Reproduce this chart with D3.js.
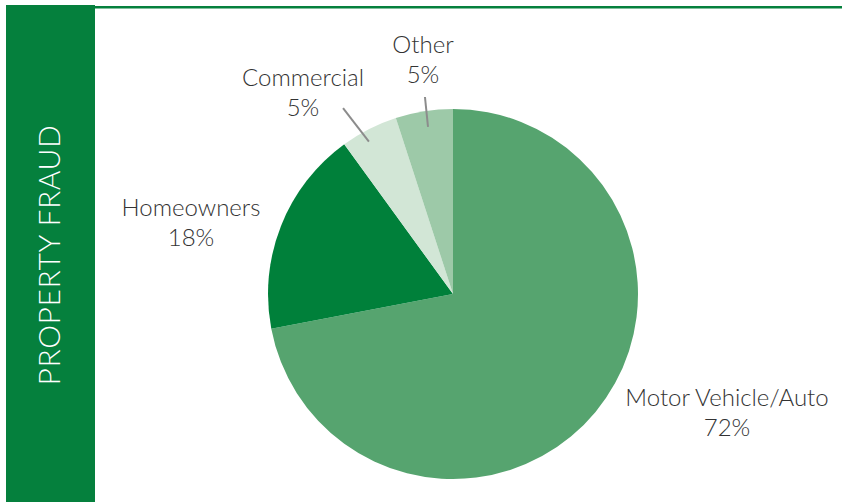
<!DOCTYPE html>
<html>
<head>
<meta charset="utf-8">
<script src="https://cdn.jsdelivr.net/npm/d3@7"></script>
<style>
  html, body { margin: 0; padding: 0; background: #fff; }
  svg { display: block; }
</style>
</head>
<body>
<svg id="chart" width="842" height="502"></svg>
<script>
// Property fraud share by line of business
const categories = ["Motor Vehicle/Auto", "Homeowners", "Commercial", "Other"];
const shares = [72, 18, 5, 5];
const sliceColors = ["#56a46f", "#00803a", "#d2e6d6", "#9dc9a8"];
const title = "PROPERTY FRAUD";

const svg = d3.select("#chart");
const W = 842, H = 502;
const brand = "#05803d";
const font = "'Lato', 'Open Sans', sans-serif";

// Side banner and top rule
svg.append("rect").attr("x", 6).attr("y", 5).attr("width", 89).attr("height", H - 5).attr("fill", brand);
svg.append("rect").attr("x", 95).attr("y", 6).attr("width", W - 95).attr("height", 2.5).attr("fill", brand);

svg.append("text")
  .attr("transform", "translate(60,255) rotate(-90)")
  .attr("text-anchor", "middle")
  .attr("fill", "#fff")
  .attr("font-family", font)
  .attr("font-weight", 300)
  .attr("font-size", 30)
  .attr("letter-spacing", 0.6)
  .text(title);

// Pie
const cx = 453, cy = 294, R = 185;
const data = categories.map((c, i) => ({ name: c, value: shares[i], color: sliceColors[i] }));
const pie = d3.pie().value(d => d.value).sort(null);
const arc = d3.arc().innerRadius(0).outerRadius(R);
const arcs = pie(data);

const g = svg.append("g").attr("transform", `translate(${cx},${cy})`);
g.selectAll("path.slice")
  .data(arcs)
  .join("path")
  .attr("class", "slice")
  .attr("d", arc)
  .attr("fill", d => d.data.color);

// Leader lines for the two thin slices: [inner radius, angle offset°, outer radius, angle offset°]
const leaders = {
  "Commercial": [174, -1.9, 216, -3.6],
  "Other": [169, 0.5, 199, 0.9]
};
// Label anchor points (centre of first line's baseline)
const labelPos = {
  "Motor Vehicle/Auto": [727, 406],
  "Homeowners": [191, 216],
  "Commercial": [303, 86],
  "Other": [423, 53]
};

const rad = deg => deg * Math.PI / 180;
arcs.forEach(a => {
  const name = a.data.name;
  const mid = (a.startAngle + a.endAngle) / 2;
  const lead = leaders[name];
  if (lead) {
    const [r0, o0, r1, o1] = lead;
    const a0 = mid + rad(o0), a1 = mid + rad(o1);
    g.append("line")
      .attr("x1", Math.sin(a0) * r0).attr("y1", -Math.cos(a0) * r0)
      .attr("x2", Math.sin(a1) * r1).attr("y2", -Math.cos(a1) * r1)
      .attr("stroke", "#8c8c8c").attr("stroke-width", 2);
  }
  const [lx, ly] = labelPos[name];
  const t = svg.append("text")
    .attr("text-anchor", "middle")
    .attr("fill", "#333")
    .attr("font-family", font)
    .attr("font-weight", 300)
    .attr("font-size", 24);
  t.append("tspan").attr("x", lx).attr("y", ly).text(name);
  t.append("tspan").attr("x", lx).attr("y", ly + 30).text(a.data.value + "%");
});
</script>
</body>
</html>
